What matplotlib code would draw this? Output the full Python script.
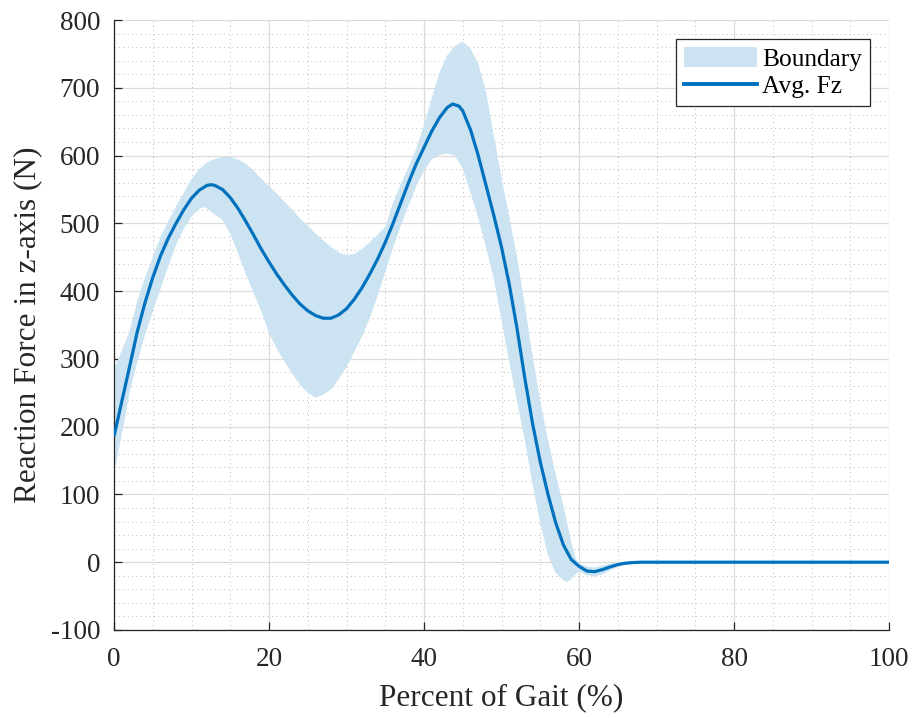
import numpy as np
import matplotlib
matplotlib.use("Agg")
import matplotlib.pyplot as plt
from matplotlib.patches import Patch
from matplotlib.lines import Line2D
from matplotlib.ticker import MultipleLocator

plt.rcParams['font.family'] = ['Liberation Serif', 'DejaVu Serif']
plt.rcParams['axes.unicode_minus'] = False

# Average Fz curve
mean_x = [0, 1, 2, 3, 4, 5, 6, 7, 8, 9, 10, 11, 12, 12.5, 13, 14, 15, 16, 17, 18, 19, 20,
          21, 22, 23, 24, 25, 26, 27, 28, 29, 30, 31, 32, 33, 34, 35, 36, 37, 38, 39, 40,
          41, 42, 43, 43.7, 44.5, 45, 46, 47, 48, 49, 50, 51, 52, 53, 54, 55, 56, 57, 58,
          59, 60, 61, 62, 63, 64, 65, 66, 67, 68, 70, 100]
mean_y = [186, 237, 288, 340, 383, 420, 452, 478, 500, 520, 537, 549, 556, 557, 556, 550, 538, 522, 503, 483, 462, 443,
          425, 409, 394, 381, 371, 364, 360, 360, 365, 374, 388, 405, 425, 447, 472, 500, 530, 560, 588, 612,
          636, 656, 671, 676, 673, 666, 638, 600, 556, 512, 465, 410, 345, 272, 205, 148, 100, 58, 25,
          4, -6, -13, -14, -11, -7, -3.5, -1.5, -0.5, 0, 0, 0]

# Upper boundary
upper_x = [0, 1, 2, 3, 4, 5, 6, 7, 8, 9, 10, 11, 12, 13, 14, 15, 16, 17, 18, 19, 20,
           21, 22, 23, 24, 25, 26, 27, 28, 29, 30, 31, 32, 33, 34, 35, 36, 37, 38, 39, 40,
           41, 42, 43, 44, 45, 46, 47, 48, 49, 50, 51, 52, 53, 54, 55, 56, 57, 58, 59, 59.5,
           60, 61, 62, 63, 64, 65, 66]
upper_y = [285, 312, 340, 385, 420, 450, 480, 503, 525, 545, 565, 580, 590, 595, 598, 598, 594, 588, 578, 566, 555,
           544, 532, 520, 507, 497, 485, 475, 465, 457, 453, 455, 462, 472, 483, 495, 530, 558, 583, 610, 645,
           685, 722, 748, 762, 768, 758, 735, 695, 630, 568, 510, 450, 380, 305, 238, 180, 130, 82, 30, 8,
           -2, -6, -8, -5, -2, 0, 0]

# Lower boundary
lower_x = [0, 1, 2, 3, 4, 5, 6, 7, 8, 9, 10, 11, 11.5, 12, 13, 14, 15, 16, 17, 18, 19, 20,
           21, 22, 23, 24, 25, 26, 27, 28, 29, 30, 31, 32, 33, 34, 35, 36, 37, 38, 39, 40,
           41, 42, 43, 44, 45, 46, 47, 48, 49, 50, 51, 52, 53, 54, 55, 56, 57, 58, 58.5,
           59, 59.5, 60, 61, 62, 63, 64, 65, 66, 67]
lower_y = [131, 188, 250, 295, 335, 370, 403, 436, 468, 492, 510, 521, 524, 522, 513, 505, 485, 456, 425, 398, 370, 338,
           315, 296, 278, 262, 250, 243, 247, 255, 270, 288, 310, 333, 360, 392, 428, 464, 496, 526, 555, 578,
           594, 601, 603, 600, 580, 545, 508, 465, 418, 358, 295, 238, 180, 115, 58, 10, -16, -27, -29,
           -25, -18, -14, -19, -21, -18, -12, -7, -3, 0]

assert len(mean_x) == len(mean_y)
assert len(upper_x) == len(upper_y)
assert len(lower_x) == len(lower_y)

line_color = '#0072BD'
band_color = '#CCE3F2'
axis_color = '#262626'

fig = plt.figure(figsize=(9.15, 7.18), dpi=100)
ax = fig.add_axes([0.1246, 0.1226, 0.847, 0.8495])

poly_x = np.concatenate([upper_x, lower_x[::-1]])
poly_y = np.concatenate([upper_y, lower_y[::-1]])
ax.fill(poly_x, poly_y, color=band_color, lw=0, zorder=2)
ax.plot(mean_x, mean_y, color=line_color, lw=2.3, zorder=3, solid_capstyle='butt')

ax.set_xlim(0, 100)
ax.set_ylim(-100, 800)
ax.xaxis.set_major_locator(MultipleLocator(20))
ax.yaxis.set_major_locator(MultipleLocator(100))
ax.xaxis.set_minor_locator(MultipleLocator(5))
ax.yaxis.set_minor_locator(MultipleLocator(20))

ax.set_axisbelow(True)
ax.grid(which='major', color='#dcdcdc', lw=0.9, ls='-')
ax.grid(which='minor', color='#b8b8b8', lw=0.7, ls=(0, (1, 3.5)))

for s in ['top', 'right']:
    ax.spines[s].set_visible(False)
for s in ['left', 'bottom']:
    ax.spines[s].set_color(axis_color)
    ax.spines[s].set_linewidth(0.9)

ax.tick_params(which='major', direction='in', length=6, width=0.9, color=axis_color,
               labelsize=19.5, labelcolor=axis_color)
ax.tick_params(axis='x', which='major', pad=12)
ax.tick_params(axis='y', which='major', pad=10)
ax.tick_params(which='minor', length=0)

ax.set_xlabel('Percent of Gait (%)', fontsize=22.5, color=axis_color, labelpad=8)
ax.set_ylabel('Reaction Force in z-axis (N)', fontsize=22.5, color=axis_color, labelpad=6)

handles = [Patch(facecolor=band_color, edgecolor='none'),
           Line2D([], [], color=line_color, lw=2.8)]
leg = ax.legend(handles, ['Boundary', 'Avg. Fz'], loc='upper right', fontsize=18.3,
                fancybox=False, framealpha=1, edgecolor=axis_color, borderaxespad=0.75,
                handlelength=2.9, handleheight=0.85, handletextpad=0.2, borderpad=0.3,
                labelspacing=0.15)
leg.get_frame().set_linewidth(0.9)

fig.savefig('out.png', dpi=100)
